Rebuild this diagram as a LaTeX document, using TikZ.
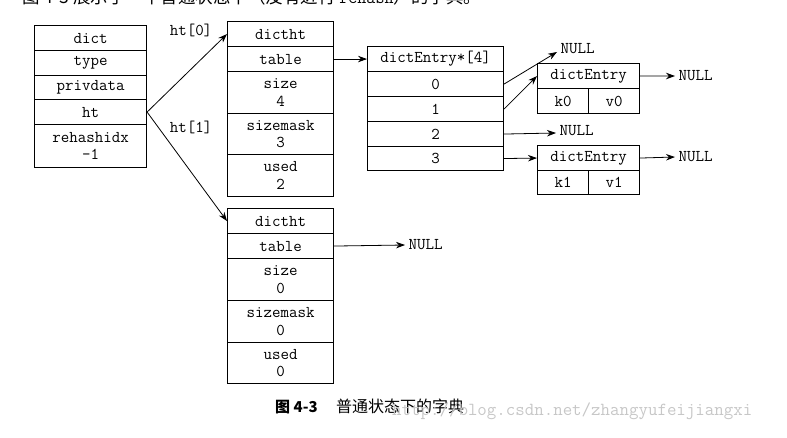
\documentclass[tikz,border=0pt]{standalone}
\usepackage{fontspec}
\newfontfamily\cjk{Noto Sans CJK SC}
\usetikzlibrary{arrows.meta}
\tikzset{
  cell/.style={draw, line width=1.1pt, inner sep=0pt, anchor=north west, align=center,
    font=\fontsize{16.5}{17.5}\selectfont\ttfamily},
  lbl/.style={inner sep=1pt, font=\fontsize{16.5}{17.5}\selectfont\ttfamily},
  nul/.style={inner sep=3.5pt, font=\fontsize{16.5}{17.5}\selectfont\ttfamily},
  arr/.style={line width=0.8pt, -{Stealth[length=9pt,width=6.5pt]}},
}
\begin{document}
\begin{tikzpicture}[x=1pt,y=-1pt]
\useasboundingbox (0,0) rectangle (787,438);
% cut-off sentence at the top
\node[anchor=base west, inner sep=0pt, font=\fontsize{17.5}{17.5}\selectfont\cjk] (top) at (22,4) {图 4-3 展示了一个普通状态下（没有进行 {\ttfamily rehash}）的字典。};
% dict
\node[cell, minimum width=112pt, minimum height=25pt] (dtitle) at (34,25) {dict};
\node[cell, minimum width=112pt, minimum height=25pt] (dtype) at (34,50) {type};
\node[cell, minimum width=112pt, minimum height=24pt] (dpriv) at (34,75) {privdata};
\node[cell, minimum width=112pt, minimum height=25pt] (dht) at (34,99) {ht};
\node[cell, minimum width=112pt, minimum height=43pt] (drh) at (34,124) {rehashidx\\-1};
% ht[0]
\node[cell, minimum width=106pt, minimum height=25pt] (h0title) at (227,21) {dictht};
\node[cell, minimum width=106pt, minimum height=25pt] (h0table) at (227,46) {table};
\node[cell, minimum width=106pt, minimum height=42pt] (h0size) at (227,71) {size\\4};
\node[cell, minimum width=106pt, minimum height=41pt] (h0mask) at (227,113) {sizemask\\3};
\node[cell, minimum width=106pt, minimum height=42pt] (h0used) at (227,154) {used\\2};
% ht[1]
\node[cell, minimum width=106pt, minimum height=25pt] (h1title) at (227,208) {dictht};
\node[cell, minimum width=106pt, minimum height=25pt] (h1table) at (227,233) {table};
\node[cell, minimum width=106pt, minimum height=42pt] (h1size) at (227,258) {size\\0};
\node[cell, minimum width=106pt, minimum height=42pt] (h1mask) at (227,300) {sizemask\\0};
\node[cell, minimum width=106pt, minimum height=41pt] (h1used) at (227,342) {used\\0};
% array
\node[cell, minimum width=136pt, minimum height=25pt] (atitle) at (367,46) {dictEntry*[4]};
\node[cell, minimum width=136pt, minimum height=25pt] (a0) at (367,71) {0};
\node[cell, minimum width=136pt, minimum height=25pt] (a1) at (367,96) {1};
\node[cell, minimum width=136pt, minimum height=25pt] (a2) at (367,121) {2};
\node[cell, minimum width=136pt, minimum height=24pt] (a3) at (367,146) {3};
% dictEntry 0
\node[cell, minimum width=102pt, minimum height=25pt] (e0title) at (537,63) {dictEntry};
\node[cell, minimum width=51pt, minimum height=25pt] (e0k) at (537,88) {k0};
\node[cell, minimum width=51pt, minimum height=25pt] (e0v) at (588,88) {v0};
% dictEntry 1
\node[cell, minimum width=102pt, minimum height=25pt] (e1title) at (537,145) {dictEntry};
\node[cell, minimum width=51pt, minimum height=24pt] (e1k) at (537,170) {k1};
\node[cell, minimum width=51pt, minimum height=24pt] (e1v) at (588,170) {v1};
% NULLs
\node[nul, anchor=west] (n0) at (557,49) {NULL};
\node[nul, anchor=west] (n2) at (556,131) {NULL};
\node[nul, anchor=west] (ne0) at (675,76) {NULL};
\node[nul, anchor=west] (ne1) at (675,157) {NULL};
\node[nul, anchor=west] (nh1) at (405,245) {NULL};
% labels
\node[lbl] (l0) at (191,30) {ht[0]};
\node[lbl] (l1) at (191,127) {ht[1]};
% connectors
\draw[arr] (dht.east) -- (h0title.west);
\draw[arr] (dht.east) -- (h1title.west);
\draw[arr] (h0table.east) -- (atitle.west);
\draw[arr] (a0.east) -- ([yshift=-3pt]n0.west);
\draw[arr] (a1.east) -- (e0title.west);
\draw[arr] (a2.east) -- ([yshift=-2pt]n2.west);
\draw[arr] (a3.east) -- (e1title.west);
\draw[arr] (e0title.east) -- (ne0.west);
\draw[arr] (e1title.east) -- (ne1.west);
\draw[arr] (h1table.east) -- (nh1.west);
% caption
\node[anchor=west, inner sep=0pt, font=\fontsize{15}{15}\selectfont\cjk\bfseries] (cap1) at (275,407) {图 4-3};
\node[anchor=west, inner sep=0pt, font=\fontsize{16}{16}\selectfont\cjk] (cap2) at (336,406) {普通状态下的字典};
\node[anchor=west, inner sep=0pt, text=black!22, font=\fontsize{18.4}{18.4}\selectfont\ttfamily] (wm) at (392,411) {http://blog.csdn.net/zhangyufeijiangxi};
\end{tikzpicture}
\end{document}
